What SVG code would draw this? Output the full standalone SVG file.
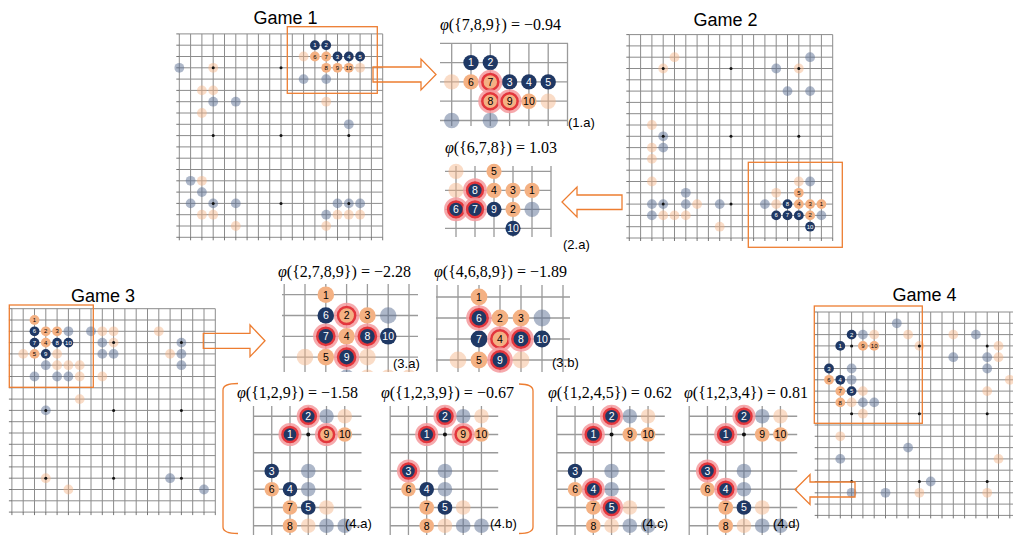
<svg xmlns="http://www.w3.org/2000/svg" width="1013" height="535" viewBox="0 0 1013 535">
<style>
.gr{fill:none;stroke:#8c8c8c;stroke-width:1}
.tk{fill:none;stroke:#555;stroke-width:.8}
.pg{fill:none;stroke:#9a9a9a;stroke-width:1.3}
.fb{fill:#5b6f93;fill-opacity:.5}
.fo{fill:#f4b183;fill-opacity:.45}
.d{fill:#1f3864}
.o{fill:#f4b183}
.st{fill:#111}
.hg{fill:none;stroke:#f59a9e;stroke-width:3.5;stroke-opacity:.85}
.hr{fill:none;stroke:#e3363c;stroke-width:2.5}
.box{fill:none;stroke:#ed7d31;stroke-width:1.3}
.arr{fill:none;stroke:#ed7d31;stroke-width:1.3;stroke-linejoin:miter}
.ttl{font-family:"Liberation Sans",Arial,sans-serif;font-size:18px;fill:#000;text-anchor:middle}
.phi{font-family:"Liberation Serif","DejaVu Serif",serif;font-size:16px;fill:#000}
.lab{font-family:"Liberation Sans",Arial,sans-serif;font-size:13px;fill:#000}
.nw{font-family:"Liberation Sans",Arial,sans-serif;font-size:10.5px;fill:#fff;text-anchor:middle}
.nb{font-family:"Liberation Sans",Arial,sans-serif;font-size:10.5px;fill:#000;text-anchor:middle}
.bw{font-family:"Liberation Sans",Arial,sans-serif;font-size:6px;fill:#fff;text-anchor:middle}
.bb{font-family:"Liberation Sans",Arial,sans-serif;font-size:6px;fill:#000;text-anchor:middle}
</style>
<defs>
<path id="grid19" class="gr" d="M0 0V203.4M11.3 0V203.4M22.6 0V203.4M33.9 0V203.4M45.2 0V203.4M56.5 0V203.4M67.8 0V203.4M79.1 0V203.4M90.4 0V203.4M101.7 0V203.4M113 0V203.4M124.3 0V203.4M135.6 0V203.4M146.9 0V203.4M158.2 0V203.4M169.5 0V203.4M180.8 0V203.4M192.1 0V203.4M203.4 0V203.4M0 0H203.4M0 11.3H203.4M0 22.6H203.4M0 33.9H203.4M0 45.2H203.4M0 56.5H203.4M0 67.8H203.4M0 79.1H203.4M0 90.4H203.4M0 101.7H203.4M0 113H203.4M0 124.3H203.4M0 135.6H203.4M0 146.9H203.4M0 158.2H203.4M0 169.5H203.4M0 180.8H203.4M0 192.1H203.4M0 203.4H203.4"/>
<path id="ticks19" class="tk" d="M-3 0H0M-3 11.3H0M-3 22.6H0M-3 33.9H0M-3 45.2H0M-3 56.5H0M-3 67.8H0M-3 79.1H0M-3 90.4H0M-3 101.7H0M-3 113H0M-3 124.3H0M-3 135.6H0M-3 146.9H0M-3 158.2H0M-3 169.5H0M-3 180.8H0M-3 192.1H0M-3 203.4H0M0 203.4v3M11.3 203.4v3M22.6 203.4v3M33.9 203.4v3M45.2 203.4v3M56.5 203.4v3M67.8 203.4v3M79.1 203.4v3M90.4 203.4v3M101.7 203.4v3M113 203.4v3M124.3 203.4v3M135.6 203.4v3M146.9 203.4v3M158.2 203.4v3M169.5 203.4v3M180.8 203.4v3M192.1 203.4v3M203.4 203.4v3"/>
<g id="stars19" class="st">
<circle cx="33.9" cy="33.9" r="1.5"/><circle cx="101.7" cy="33.9" r="1.5"/><circle cx="169.5" cy="33.9" r="1.5"/>
<circle cx="33.9" cy="101.7" r="1.5"/><circle cx="101.7" cy="101.7" r="1.5"/><circle cx="169.5" cy="101.7" r="1.5"/>
<circle cx="33.9" cy="169.5" r="1.5"/><circle cx="101.7" cy="169.5" r="1.5"/><circle cx="169.5" cy="169.5" r="1.5"/>
</g>
<clipPath id="c3a"><rect x="270" y="280" width="160" height="92"/></clipPath>
</defs>

<!-- ===== Game 1 ===== -->
<g id="game1">
<text class="ttl" x="285.5" y="23.5">Game 1</text>
<g transform="translate(179.3,33.9)">
<use href="#grid19"/><use href="#ticks19"/>
<g class="fo"><circle cx="124.3" cy="22.6" r="4.9"/><circle cx="180.8" cy="33.9" r="4.9"/><circle cx="33.9" cy="33.9" r="4.9"/><circle cx="22.6" cy="56.5" r="4.9"/><circle cx="33.9" cy="56.5" r="4.9"/><circle cx="22.6" cy="79.1" r="4.9"/><circle cx="146.9" cy="67.8" r="4.9"/><circle cx="22.6" cy="146.9" r="4.9"/><circle cx="22.6" cy="180.8" r="4.9"/><circle cx="33.9" cy="180.8" r="4.9"/><circle cx="56.5" cy="192.1" r="4.9"/><circle cx="158.2" cy="180.8" r="4.9"/><circle cx="169.5" cy="180.8" r="4.9"/><circle cx="180.8" cy="180.8" r="4.9"/><circle cx="146.9" cy="192.1" r="4.9"/></g>
<g class="fb"><circle cx="124.3" cy="45.2" r="4.9"/><circle cx="146.9" cy="45.2" r="4.9"/><circle cx="0" cy="33.9" r="4.9"/><circle cx="33.9" cy="67.8" r="4.9"/><circle cx="56.5" cy="67.8" r="4.9"/><circle cx="169.5" cy="90.4" r="4.9"/><circle cx="11.3" cy="146.9" r="4.9"/><circle cx="22.6" cy="158.2" r="4.9"/><circle cx="11.3" cy="169.5" r="4.9"/><circle cx="33.9" cy="169.5" r="4.9"/><circle cx="56.5" cy="169.5" r="4.9"/><circle cx="158.2" cy="169.5" r="4.9"/><circle cx="169.5" cy="169.5" r="4.9"/><circle cx="180.8" cy="169.5" r="4.9"/><circle cx="146.9" cy="180.8" r="4.9"/></g>
<use href="#stars19"/>
<g class="d"><circle cx="135.6" cy="11.3" r="4.9"/><circle cx="146.9" cy="11.3" r="4.9"/><circle cx="158.2" cy="22.6" r="4.9"/><circle cx="169.5" cy="22.6" r="4.9"/><circle cx="180.8" cy="22.6" r="4.9"/></g>
<g class="o"><circle cx="135.6" cy="22.6" r="4.9"/><circle cx="146.9" cy="22.6" r="4.9"/><circle cx="146.9" cy="33.9" r="4.9"/><circle cx="158.2" cy="33.9" r="4.9"/><circle cx="169.5" cy="33.9" r="4.9"/></g>
<text class="bw" x="135.6" y="13.4">1</text><text class="bw" x="146.9" y="13.4">2</text><text class="bw" x="158.2" y="24.7">3</text><text class="bw" x="169.5" y="24.7">4</text><text class="bw" x="180.8" y="24.7">5</text>
<text class="bb" x="135.6" y="24.7">6</text><text class="bb" x="146.9" y="24.7">7</text><text class="bb" x="146.9" y="36">8</text><text class="bb" x="158.2" y="36">9</text><text class="bb" x="169.5" y="36">10</text>
</g>
</g>

<!-- ===== Game 2 ===== -->
<g id="game2">
<text class="ttl" x="725.5" y="26">Game 2</text>
<g transform="translate(629.3,34.6)">
<use href="#grid19"/><use href="#ticks19"/>
<g class="fo"><circle cx="45.2" cy="22.6" r="4.9"/><circle cx="33.9" cy="33.9" r="4.9"/><circle cx="169.5" cy="33.9" r="4.9"/><circle cx="22.6" cy="90.4" r="4.9"/><circle cx="22.6" cy="113" r="4.9"/><circle cx="22.6" cy="124.3" r="4.9"/><circle cx="22.6" cy="146.9" r="4.9"/><circle cx="169.5" cy="146.9" r="4.9"/><circle cx="146.9" cy="158.2" r="4.9"/><circle cx="67.8" cy="169.5" r="4.9"/><circle cx="146.9" cy="169.5" r="4.9"/><circle cx="33.9" cy="180.8" r="4.9"/><circle cx="45.2" cy="180.8" r="4.9"/><circle cx="56.5" cy="180.8" r="4.9"/><circle cx="90.4" cy="192.1" r="4.9"/></g>
<g class="fb"><circle cx="180.8" cy="22.6" r="4.9"/><circle cx="146.9" cy="33.9" r="4.9"/><circle cx="158.2" cy="56.5" r="4.9"/><circle cx="180.8" cy="56.5" r="4.9"/><circle cx="33.9" cy="101.7" r="4.9"/><circle cx="33.9" cy="113" r="4.9"/><circle cx="180.8" cy="146.9" r="4.9"/><circle cx="56.5" cy="158.2" r="4.9"/><circle cx="22.6" cy="169.5" r="4.9"/><circle cx="33.9" cy="169.5" r="4.9"/><circle cx="56.5" cy="169.5" r="4.9"/><circle cx="90.4" cy="169.5" r="4.9"/><circle cx="135.6" cy="169.5" r="4.9"/><circle cx="22.6" cy="180.8" r="4.9"/><circle cx="192.1" cy="180.8" r="4.9"/></g>
<use href="#stars19"/>
<g class="o"><circle cx="169.5" cy="158.2" r="4.9"/><circle cx="169.5" cy="169.5" r="4.9"/><circle cx="180.8" cy="169.5" r="4.9"/><circle cx="192.1" cy="169.5" r="4.9"/><circle cx="180.8" cy="180.8" r="4.9"/></g>
<g class="d"><circle cx="158.2" cy="169.5" r="4.9"/><circle cx="146.9" cy="180.8" r="4.9"/><circle cx="158.2" cy="180.8" r="4.9"/><circle cx="169.5" cy="180.8" r="4.9"/><circle cx="180.8" cy="192.1" r="4.9"/></g>
<text class="bb" x="169.5" y="160.3">5</text><text class="bb" x="169.5" y="171.6">4</text><text class="bb" x="180.8" y="171.6">3</text><text class="bb" x="192.1" y="171.6">1</text><text class="bb" x="180.8" y="182.9">2</text>
<text class="bw" x="158.2" y="171.6">8</text><text class="bw" x="146.9" y="182.9">6</text><text class="bw" x="158.2" y="182.9">7</text><text class="bw" x="169.5" y="182.9">9</text><text class="bw" x="180.8" y="194.2">10</text>
</g>
</g>

<!-- ===== Game 3 ===== -->
<g id="game3">
<text class="ttl" x="103" y="301.5">Game 3</text>
<g transform="translate(11.9,308.7)">
<use href="#grid19"/><use href="#ticks19"/>
<g class="fb"><circle cx="56.5" cy="22.6" r="4.9"/><circle cx="79.1" cy="22.6" r="4.9"/><circle cx="90.4" cy="33.9" r="4.9"/><circle cx="169.5" cy="33.9" r="4.9"/><circle cx="90.4" cy="45.2" r="4.9"/><circle cx="101.7" cy="45.2" r="4.9"/><circle cx="169.5" cy="45.2" r="4.9"/><circle cx="33.9" cy="56.5" r="4.9"/><circle cx="169.5" cy="56.5" r="4.9"/><circle cx="22.6" cy="67.8" r="4.9"/><circle cx="45.2" cy="67.8" r="4.9"/><circle cx="56.5" cy="67.8" r="4.9"/><circle cx="33.9" cy="101.7" r="4.9"/><circle cx="158.2" cy="169.5" r="4.9"/><circle cx="192.1" cy="180.8" r="4.9"/></g>
<g class="fo"><circle cx="90.4" cy="22.6" r="4.9"/><circle cx="101.7" cy="22.6" r="4.9"/><circle cx="146.9" cy="22.6" r="4.9"/><circle cx="101.7" cy="33.9" r="4.9"/><circle cx="11.3" cy="45.2" r="4.9"/><circle cx="45.2" cy="45.2" r="4.9"/><circle cx="158.2" cy="45.2" r="4.9"/><circle cx="45.2" cy="56.5" r="4.9"/><circle cx="56.5" cy="56.5" r="4.9"/><circle cx="67.8" cy="56.5" r="4.9"/><circle cx="67.8" cy="67.8" r="4.9"/><circle cx="90.4" cy="67.8" r="4.9"/><circle cx="67.8" cy="90.4" r="4.9"/><circle cx="33.9" cy="169.5" r="4.9"/><circle cx="56.5" cy="180.8" r="4.9"/></g>
<use href="#stars19"/>
<g class="o"><circle cx="22.6" cy="11.3" r="4.9"/><circle cx="33.9" cy="22.6" r="4.9"/><circle cx="45.2" cy="22.6" r="4.9"/><circle cx="33.9" cy="33.9" r="4.9"/><circle cx="22.6" cy="45.2" r="4.9"/></g>
<g class="d"><circle cx="22.6" cy="22.6" r="4.9"/><circle cx="22.6" cy="33.9" r="4.9"/><circle cx="45.2" cy="33.9" r="4.9"/><circle cx="56.5" cy="33.9" r="4.9"/><circle cx="33.9" cy="45.2" r="4.9"/></g>
<text class="bb" x="22.6" y="13.4">1</text><text class="bb" x="33.9" y="24.7">2</text><text class="bb" x="45.2" y="24.7">3</text><text class="bb" x="33.9" y="36">4</text><text class="bb" x="22.6" y="47.3">5</text>
<text class="bw" x="22.6" y="24.7">6</text><text class="bw" x="22.6" y="36">7</text><text class="bw" x="45.2" y="36">8</text><text class="bw" x="56.5" y="36">10</text><text class="bw" x="33.9" y="47.3">9</text>
</g>
</g>

<!-- ===== Game 4 ===== -->
<g id="game4">
<text class="ttl" x="924.5" y="300.5">Game 4</text>
<g transform="translate(817.7,312)">
<use href="#grid19"/><use href="#ticks19"/>
<g class="fb"><circle cx="79.1" cy="11.3" r="4.9"/><circle cx="45.2" cy="22.6" r="4.9"/><circle cx="158.2" cy="22.6" r="4.9"/><circle cx="135.6" cy="45.2" r="4.9"/><circle cx="169.5" cy="45.2" r="4.9"/><circle cx="33.9" cy="56.5" r="4.9"/><circle cx="169.5" cy="56.5" r="4.9"/><circle cx="33.9" cy="67.8" r="4.9"/><circle cx="45.2" cy="90.4" r="4.9"/><circle cx="56.5" cy="90.4" r="4.9"/><circle cx="90.4" cy="135.6" r="4.9"/><circle cx="22.6" cy="146.9" r="4.9"/><circle cx="113" cy="169.5" r="4.9"/><circle cx="33.9" cy="180.8" r="4.9"/><circle cx="67.8" cy="180.8" r="4.9"/></g>
<g class="fo"><circle cx="56.5" cy="22.6" r="4.9"/><circle cx="90.4" cy="22.6" r="4.9"/><circle cx="135.6" cy="22.6" r="4.9"/><circle cx="101.7" cy="33.9" r="4.9"/><circle cx="180.8" cy="33.9" r="4.9"/><circle cx="180.8" cy="45.2" r="4.9"/><circle cx="192.1" cy="67.8" r="4.9"/><circle cx="45.2" cy="79.1" r="4.9"/><circle cx="169.5" cy="79.1" r="4.9"/><circle cx="33.9" cy="90.4" r="4.9"/><circle cx="45.2" cy="101.7" r="4.9"/><circle cx="22.6" cy="124.3" r="4.9"/><circle cx="180.8" cy="146.9" r="4.9"/><circle cx="101.7" cy="180.8" r="4.9"/><circle cx="169.5" cy="180.8" r="4.9"/></g>
<use href="#stars19"/>
<g class="d"><circle cx="33.9" cy="22.6" r="4.9"/><circle cx="22.6" cy="33.9" r="4.9"/><circle cx="11.3" cy="56.5" r="4.9"/><circle cx="22.6" cy="67.8" r="4.9"/><circle cx="33.9" cy="79.1" r="4.9"/></g>
<g class="o"><circle cx="45.2" cy="33.9" r="4.9"/><circle cx="56.5" cy="33.9" r="4.9"/><circle cx="11.3" cy="67.8" r="4.9"/><circle cx="22.6" cy="79.1" r="4.9"/><circle cx="22.6" cy="90.4" r="4.9"/></g>
<text class="bw" x="33.9" y="24.7">2</text><text class="bw" x="22.6" y="36">1</text><text class="bw" x="11.3" y="58.6">3</text><text class="bw" x="22.6" y="69.9">4</text><text class="bw" x="33.9" y="81.2">5</text>
<text class="bb" x="45.2" y="36">9</text><text class="bb" x="56.5" y="36">10</text><text class="bb" x="11.3" y="69.9">6</text><text class="bb" x="22.6" y="81.2">7</text><text class="bb" x="22.6" y="92.5">8</text>
</g>
</g>

<!-- ===== Panel 1.a ===== -->
<g id="panel-1a">
<text class="phi" x="440" y="30"><tspan font-style="italic">φ</tspan>({7,8,9}) = −0.94</text>
<path class="pg" d="M440 43.3H568M440 62.6H568M440 81.9H568M440 101.2H568M440 120.5H568M451.7 43.3V126M471 43.3V126M490.3 43.3V126M509.6 43.3V126M528.9 43.3V126M548.2 43.3V126M567.5 43.3V126"/>
<g class="fo"><circle cx="451.7" cy="81.9" r="7.7"/><circle cx="548.2" cy="101.2" r="7.7"/></g>
<g class="fb"><circle cx="451.7" cy="120.5" r="7.7"/><circle cx="490.3" cy="120.5" r="7.7"/></g>
<g class="d"><circle cx="471" cy="62.6" r="7.7"/><circle cx="490.3" cy="62.6" r="7.7"/><circle cx="509.6" cy="81.9" r="7.7"/><circle cx="528.9" cy="81.9" r="7.7"/><circle cx="548.2" cy="81.9" r="7.7"/></g>
<g class="o"><circle cx="471" cy="81.9" r="7.7"/><circle cx="490.3" cy="81.9" r="7.7"/><circle cx="490.3" cy="101.2" r="7.7"/><circle cx="509.6" cy="101.2" r="7.7"/><circle cx="528.9" cy="101.2" r="7.7"/></g>
<circle class="hg" cx="490.3" cy="81.9" r="10.3"/><circle class="hr" cx="490.3" cy="81.9" r="8"/>
<circle class="hg" cx="490.3" cy="101.2" r="10.3"/><circle class="hr" cx="490.3" cy="101.2" r="8"/>
<circle class="hg" cx="509.6" cy="101.2" r="10.3"/><circle class="hr" cx="509.6" cy="101.2" r="8"/>
<text class="nw" x="471" y="66.4">1</text><text class="nw" x="490.3" y="66.4">2</text><text class="nw" x="509.6" y="85.7">3</text><text class="nw" x="528.9" y="85.7">4</text><text class="nw" x="548.2" y="85.7">5</text>
<text class="nb" x="471" y="85.7">6</text><text class="nb" x="490.3" y="85.7">7</text><text class="nb" x="490.3" y="105">8</text><text class="nb" x="509.6" y="105">9</text><text class="nb" x="528.9" y="105">10</text>
<text class="lab" x="568" y="127">(1.a)</text>
</g>

<!-- ===== Panel 2.a ===== -->
<g id="panel-2a">
<text class="phi" x="445" y="153"><tspan font-style="italic">φ</tspan>({6,7,8}) = 1.03</text>
<path class="pg" d="M445 171.3H551M445 190.3H551M445 209.3H551M445 228.3H551M456 166V237M475 166V237M494 166V237M513 166V237M532 166V237M551 166V237"/>
<g class="fo"><circle cx="456" cy="171.3" r="7.6"/><circle cx="456" cy="190.3" r="7.6"/></g>
<g class="fb"><circle cx="532" cy="209.3" r="7.6"/></g>
<g class="o"><circle cx="494" cy="171.3" r="7.6"/><circle cx="494" cy="190.3" r="7.6"/><circle cx="513" cy="190.3" r="7.6"/><circle cx="532" cy="190.3" r="7.6"/><circle cx="513" cy="209.3" r="7.6"/></g>
<g class="d"><circle cx="475" cy="190.3" r="7.6"/><circle cx="456" cy="209.3" r="7.6"/><circle cx="475" cy="209.3" r="7.6"/><circle cx="494" cy="209.3" r="7.6"/><circle cx="513" cy="228.3" r="7.6"/></g>
<circle class="hg" cx="475" cy="190.3" r="10.2"/><circle class="hr" cx="475" cy="190.3" r="7.9"/>
<circle class="hg" cx="456" cy="209.3" r="10.2"/><circle class="hr" cx="456" cy="209.3" r="7.9"/>
<circle class="hg" cx="475" cy="209.3" r="10.2"/><circle class="hr" cx="475" cy="209.3" r="7.9"/>
<text class="nb" x="494" y="175.1">5</text><text class="nb" x="494" y="194.1">4</text><text class="nb" x="513" y="194.1">3</text><text class="nb" x="532" y="194.1">1</text><text class="nb" x="513" y="213.1">2</text>
<text class="nw" x="475" y="194.1">8</text><text class="nw" x="456" y="213.1">6</text><text class="nw" x="475" y="213.1">7</text><text class="nw" x="494" y="213.1">9</text><text class="nw" x="513" y="232.1">10</text>
<text class="lab" x="563" y="249">(2.a)</text>
</g>

<!-- ===== Panel 3.a ===== -->
<g id="panel-3a">
<text class="phi" x="278" y="277"><tspan font-style="italic">φ</tspan>({2,7,8,9}) = −2.28</text>
<g clip-path="url(#c3a)">
<path class="pg" d="M282 294.7H418M282 315.5H418M282 336.3H418M282 357.1H418M284.2 284V372M305 284V372M325.8 284V372M346.6 284V372M367.4 284V372M388.2 284V372M409 284V372"/>
<g class="fo"><circle cx="305" cy="357.1" r="8.3"/><circle cx="367.4" cy="357.1" r="8.3"/><circle cx="367.4" cy="377.9" r="8.3"/><circle cx="388.2" cy="377.9" r="8.3"/><circle cx="409" cy="377.9" r="8.3"/></g>
<g class="fb"><circle cx="388.2" cy="315.5" r="8.3"/><circle cx="346.6" cy="377.9" r="8.3"/></g>
</g>
<g class="o"><circle cx="325.8" cy="294.7" r="8.3"/><circle cx="346.6" cy="315.5" r="8.3"/><circle cx="367.4" cy="315.5" r="8.3"/><circle cx="346.6" cy="336.3" r="8.3"/><circle cx="325.8" cy="357.1" r="8.3"/></g>
<g class="d"><circle cx="325.8" cy="315.5" r="8.3"/><circle cx="325.8" cy="336.3" r="8.3"/><circle cx="367.4" cy="336.3" r="8.3"/><circle cx="388.2" cy="336.3" r="8.3"/><circle cx="346.6" cy="357.1" r="8.3"/></g>
<circle class="hg" cx="346.6" cy="315.5" r="11"/><circle class="hr" cx="346.6" cy="315.5" r="8.6"/>
<circle class="hg" cx="325.8" cy="336.3" r="11"/><circle class="hr" cx="325.8" cy="336.3" r="8.6"/>
<circle class="hg" cx="367.4" cy="336.3" r="11"/><circle class="hr" cx="367.4" cy="336.3" r="8.6"/>
<circle class="hg" cx="346.6" cy="357.1" r="11"/><circle class="hr" cx="346.6" cy="357.1" r="8.6"/>
<text class="nb" x="325.8" y="298.5">1</text><text class="nb" x="346.6" y="319.3">2</text><text class="nb" x="367.4" y="319.3">3</text><text class="nb" x="346.6" y="340.1">4</text><text class="nb" x="325.8" y="360.9">5</text>
<text class="nw" x="325.8" y="319.3">6</text><text class="nw" x="325.8" y="340.1">7</text><text class="nw" x="367.4" y="340.1">8</text><text class="nw" x="388.2" y="340.1">10</text><text class="nw" x="346.6" y="360.9">9</text>
<text class="lab" x="393" y="368">(3.a)</text>
</g>

<!-- ===== Panel 3.b ===== -->
<g id="panel-3b">
<text class="phi" x="434" y="277"><tspan font-style="italic">φ</tspan>({4,6,8,9}) = −1.89</text>
<path class="pg" d="M436 297H570M436 318H570M436 339H570M436 360H570M437 285V372M458 285V372M479 285V372M500 285V372M521 285V372M542 285V372M563 285V372"/>
<g class="fo"><circle cx="458" cy="360" r="8.4"/><circle cx="521" cy="360" r="8.4"/></g>
<g class="fb"><circle cx="542" cy="318" r="8.4"/></g>
<g class="o"><circle cx="479" cy="297" r="8.4"/><circle cx="500" cy="318" r="8.4"/><circle cx="521" cy="318" r="8.4"/><circle cx="500" cy="339" r="8.4"/><circle cx="479" cy="360" r="8.4"/></g>
<g class="d"><circle cx="479" cy="318" r="8.4"/><circle cx="479" cy="339" r="8.4"/><circle cx="521" cy="339" r="8.4"/><circle cx="542" cy="339" r="8.4"/><circle cx="500" cy="360" r="8.4"/></g>
<circle class="hg" cx="479" cy="318" r="11.1"/><circle class="hr" cx="479" cy="318" r="8.7"/>
<circle class="hg" cx="500" cy="339" r="11.1"/><circle class="hr" cx="500" cy="339" r="8.7"/>
<circle class="hg" cx="521" cy="339" r="11.1"/><circle class="hr" cx="521" cy="339" r="8.7"/>
<circle class="hg" cx="500" cy="360" r="11.1"/><circle class="hr" cx="500" cy="360" r="8.7"/>
<text class="nb" x="479" y="300.8">1</text><text class="nb" x="500" y="321.8">2</text><text class="nb" x="521" y="321.8">3</text><text class="nb" x="500" y="342.8">4</text><text class="nb" x="479" y="363.8">5</text>
<text class="nw" x="479" y="321.8">6</text><text class="nw" x="479" y="342.8">7</text><text class="nw" x="521" y="342.8">8</text><text class="nw" x="542" y="342.8">10</text><text class="nw" x="500" y="363.8">9</text>
<text class="lab" x="552" y="367">(3.b)</text>
</g>

<!-- ===== Panels 4.a - 4.d ===== -->
<g id="panel-4a">
<text class="phi" x="237" y="398"><tspan font-style="italic">φ</tspan>({1,2,9}) = −1.58</text>
<path class="pg" d="M253.5 416.25H361.5M253.5 434.5H361.5M253.5 452.75H361.5M253.5 471H361.5M253.5 489.25H361.5M253.5 507.5H361.5M253.5 525.75H361.5M253.5 406V535M271.75 406V535M290 406V535M308.25 406V535M326.5 406V535M344.75 406V535"/>
<g class="fb"><circle cx="326.5" cy="416.25" r="7.3"/><circle cx="308.25" cy="471" r="7.3"/><circle cx="308.25" cy="489.25" r="7.3"/><circle cx="326.5" cy="525.75" r="7.3"/><circle cx="344.75" cy="525.75" r="7.3"/></g>
<g class="fo"><circle cx="344.75" cy="416.25" r="7.3"/><circle cx="326.5" cy="507.5" r="7.3"/><circle cx="308.25" cy="525.75" r="7.3"/></g>
<circle class="st" cx="308.25" cy="434.5" r="2"/>
<g class="d"><circle cx="308.25" cy="416.25" r="7.3"/><circle cx="290" cy="434.5" r="7.3"/><circle cx="271.75" cy="471" r="7.3"/><circle cx="290" cy="489.25" r="7.3"/><circle cx="308.25" cy="507.5" r="7.3"/></g>
<g class="o"><circle cx="326.5" cy="434.5" r="7.3"/><circle cx="344.75" cy="434.5" r="7.3"/><circle cx="271.75" cy="489.25" r="7.3"/><circle cx="290" cy="507.5" r="7.3"/><circle cx="290" cy="525.75" r="7.3"/></g>
<circle class="hg" cx="308.25" cy="416.25" r="9.8"/><circle class="hr" cx="308.25" cy="416.25" r="7.6"/>
<circle class="hg" cx="290" cy="434.5" r="9.8"/><circle class="hr" cx="290" cy="434.5" r="7.6"/>
<circle class="hg" cx="326.5" cy="434.5" r="9.8"/><circle class="hr" cx="326.5" cy="434.5" r="7.6"/>
<text class="nw" x="308.25" y="420">2</text><text class="nw" x="290" y="438.3">1</text><text class="nw" x="271.75" y="474.8">3</text><text class="nw" x="290" y="493">4</text><text class="nw" x="308.25" y="511.3">5</text>
<text class="nb" x="326.5" y="438.3">9</text><text class="nb" x="344.75" y="438.3">10</text><text class="nb" x="271.75" y="493">6</text><text class="nb" x="290" y="511.3">7</text><text class="nb" x="290" y="529.5">8</text>
<text class="lab" x="345" y="528">(4.a)</text>
</g>

<g id="panel-4b" transform="translate(136.7,0)">
<text class="phi" x="244.3" y="398"><tspan font-style="italic">φ</tspan>({1,2,3,9}) = −0.67</text>
<path class="pg" d="M253.5 416.25H361.5M253.5 434.5H361.5M253.5 452.75H361.5M253.5 471H361.5M253.5 489.25H361.5M253.5 507.5H361.5M253.5 525.75H361.5M253.5 406V535M271.75 406V535M290 406V535M308.25 406V535M326.5 406V535M344.75 406V535"/>
<g class="fb"><circle cx="326.5" cy="416.25" r="7.3"/><circle cx="308.25" cy="471" r="7.3"/><circle cx="308.25" cy="489.25" r="7.3"/><circle cx="326.5" cy="525.75" r="7.3"/><circle cx="344.75" cy="525.75" r="7.3"/></g>
<g class="fo"><circle cx="344.75" cy="416.25" r="7.3"/><circle cx="326.5" cy="507.5" r="7.3"/><circle cx="308.25" cy="525.75" r="7.3"/></g>
<circle class="st" cx="308.25" cy="434.5" r="2"/>
<g class="d"><circle cx="308.25" cy="416.25" r="7.3"/><circle cx="290" cy="434.5" r="7.3"/><circle cx="271.75" cy="471" r="7.3"/><circle cx="290" cy="489.25" r="7.3"/><circle cx="308.25" cy="507.5" r="7.3"/></g>
<g class="o"><circle cx="326.5" cy="434.5" r="7.3"/><circle cx="344.75" cy="434.5" r="7.3"/><circle cx="271.75" cy="489.25" r="7.3"/><circle cx="290" cy="507.5" r="7.3"/><circle cx="290" cy="525.75" r="7.3"/></g>
<circle class="hg" cx="308.25" cy="416.25" r="9.8"/><circle class="hr" cx="308.25" cy="416.25" r="7.6"/>
<circle class="hg" cx="290" cy="434.5" r="9.8"/><circle class="hr" cx="290" cy="434.5" r="7.6"/>
<circle class="hg" cx="326.5" cy="434.5" r="9.8"/><circle class="hr" cx="326.5" cy="434.5" r="7.6"/>
<circle class="hg" cx="271.75" cy="471" r="9.8"/><circle class="hr" cx="271.75" cy="471" r="7.6"/>
<text class="nw" x="308.25" y="420">2</text><text class="nw" x="290" y="438.3">1</text><text class="nw" x="271.75" y="474.8">3</text><text class="nw" x="290" y="493">4</text><text class="nw" x="308.25" y="511.3">5</text>
<text class="nb" x="326.5" y="438.3">9</text><text class="nb" x="344.75" y="438.3">10</text><text class="nb" x="271.75" y="493">6</text><text class="nb" x="290" y="511.3">7</text><text class="nb" x="290" y="529.5">8</text>
<text class="lab" x="353.3" y="528">(4.b)</text>
</g>

<g id="panel-4c" transform="translate(303.3,0)">
<text class="phi" x="244.7" y="398"><tspan font-style="italic">φ</tspan>({1,2,4,5}) = 0.62</text>
<path class="pg" d="M253.5 416.25H361.5M253.5 434.5H361.5M253.5 452.75H361.5M253.5 471H361.5M253.5 489.25H361.5M253.5 507.5H361.5M253.5 525.75H361.5M253.5 406V535M271.75 406V535M290 406V535M308.25 406V535M326.5 406V535M344.75 406V535"/>
<g class="fb"><circle cx="326.5" cy="416.25" r="7.3"/><circle cx="308.25" cy="471" r="7.3"/><circle cx="308.25" cy="489.25" r="7.3"/><circle cx="326.5" cy="525.75" r="7.3"/><circle cx="344.75" cy="525.75" r="7.3"/></g>
<g class="fo"><circle cx="344.75" cy="416.25" r="7.3"/><circle cx="326.5" cy="507.5" r="7.3"/><circle cx="308.25" cy="525.75" r="7.3"/></g>
<circle class="st" cx="308.25" cy="434.5" r="2"/>
<g class="d"><circle cx="308.25" cy="416.25" r="7.3"/><circle cx="290" cy="434.5" r="7.3"/><circle cx="271.75" cy="471" r="7.3"/><circle cx="290" cy="489.25" r="7.3"/><circle cx="308.25" cy="507.5" r="7.3"/></g>
<g class="o"><circle cx="326.5" cy="434.5" r="7.3"/><circle cx="344.75" cy="434.5" r="7.3"/><circle cx="271.75" cy="489.25" r="7.3"/><circle cx="290" cy="507.5" r="7.3"/><circle cx="290" cy="525.75" r="7.3"/></g>
<circle class="hg" cx="308.25" cy="416.25" r="9.8"/><circle class="hr" cx="308.25" cy="416.25" r="7.6"/>
<circle class="hg" cx="290" cy="434.5" r="9.8"/><circle class="hr" cx="290" cy="434.5" r="7.6"/>
<circle class="hg" cx="290" cy="489.25" r="9.8"/><circle class="hr" cx="290" cy="489.25" r="7.6"/>
<circle class="hg" cx="308.25" cy="507.5" r="9.8"/><circle class="hr" cx="308.25" cy="507.5" r="7.6"/>
<text class="nw" x="308.25" y="420">2</text><text class="nw" x="290" y="438.3">1</text><text class="nw" x="271.75" y="474.8">3</text><text class="nw" x="290" y="493">4</text><text class="nw" x="308.25" y="511.3">5</text>
<text class="nb" x="326.5" y="438.3">9</text><text class="nb" x="344.75" y="438.3">10</text><text class="nb" x="271.75" y="493">6</text><text class="nb" x="290" y="511.3">7</text><text class="nb" x="290" y="529.5">8</text>
<text class="lab" x="338.7" y="528">(4.c)</text>
</g>

<g id="panel-4d" transform="translate(435.7,0)">
<text class="phi" x="248.3" y="398"><tspan font-style="italic">φ</tspan>({1,2,3,4}) = 0.81</text>
<path class="pg" d="M253.5 416.25H361.5M253.5 434.5H361.5M253.5 452.75H361.5M253.5 471H361.5M253.5 489.25H361.5M253.5 507.5H361.5M253.5 525.75H361.5M253.5 406V535M271.75 406V535M290 406V535M308.25 406V535M326.5 406V535M344.75 406V535"/>
<g class="fb"><circle cx="326.5" cy="416.25" r="7.3"/><circle cx="308.25" cy="471" r="7.3"/><circle cx="308.25" cy="489.25" r="7.3"/><circle cx="326.5" cy="525.75" r="7.3"/><circle cx="344.75" cy="525.75" r="7.3"/></g>
<g class="fo"><circle cx="344.75" cy="416.25" r="7.3"/><circle cx="326.5" cy="507.5" r="7.3"/><circle cx="308.25" cy="525.75" r="7.3"/></g>
<circle class="st" cx="308.25" cy="434.5" r="2"/>
<g class="d"><circle cx="308.25" cy="416.25" r="7.3"/><circle cx="290" cy="434.5" r="7.3"/><circle cx="271.75" cy="471" r="7.3"/><circle cx="290" cy="489.25" r="7.3"/><circle cx="308.25" cy="507.5" r="7.3"/></g>
<g class="o"><circle cx="326.5" cy="434.5" r="7.3"/><circle cx="344.75" cy="434.5" r="7.3"/><circle cx="271.75" cy="489.25" r="7.3"/><circle cx="290" cy="507.5" r="7.3"/><circle cx="290" cy="525.75" r="7.3"/></g>
<circle class="hg" cx="308.25" cy="416.25" r="9.8"/><circle class="hr" cx="308.25" cy="416.25" r="7.6"/>
<circle class="hg" cx="290" cy="434.5" r="9.8"/><circle class="hr" cx="290" cy="434.5" r="7.6"/>
<circle class="hg" cx="271.75" cy="471" r="9.8"/><circle class="hr" cx="271.75" cy="471" r="7.6"/>
<circle class="hg" cx="290" cy="489.25" r="9.8"/><circle class="hr" cx="290" cy="489.25" r="7.6"/>
<text class="nw" x="308.25" y="420">2</text><text class="nw" x="290" y="438.3">1</text><text class="nw" x="271.75" y="474.8">3</text><text class="nw" x="290" y="493">4</text><text class="nw" x="308.25" y="511.3">5</text>
<text class="nb" x="326.5" y="438.3">9</text><text class="nb" x="344.75" y="438.3">10</text><text class="nb" x="271.75" y="493">6</text><text class="nb" x="290" y="511.3">7</text><text class="nb" x="290" y="529.5">8</text>
<text class="lab" x="337.3" y="528">(4.d)</text>
</g>

<!-- ===== Connectors: highlight boxes, arrows, brackets ===== -->
<g id="connectors">
<rect class="box" x="287.3" y="26.7" width="90" height="66.6"/>
<rect class="box" x="748.3" y="162.3" width="94" height="85"/>
<rect class="box" x="9.3" y="305" width="84" height="82.3"/>
<rect class="box" x="814.3" y="306" width="108" height="117.3"/>
<path class="arr" d="M373 67H421V59L436 74.5L421 90V82H373Z"/>
<path class="arr" d="M622 195H577V187L562 202L577 217V209.5H622Z"/>
<path class="arr" d="M203.3 333.3H250V325L265 340.8L250 356.7V348.3H203.3Z"/>
<path class="arr" d="M855 482H810V474.5L795 489.5L810 504.5V497H855Z"/>
<path class="box" d="M238 383.5Q223 383.5 223 390V527Q223 533.5 238 533.5"/>
<path class="box" d="M519 384Q533 384 533 391V527Q533 533.5 519 533.5"/>
</g>
</svg>
